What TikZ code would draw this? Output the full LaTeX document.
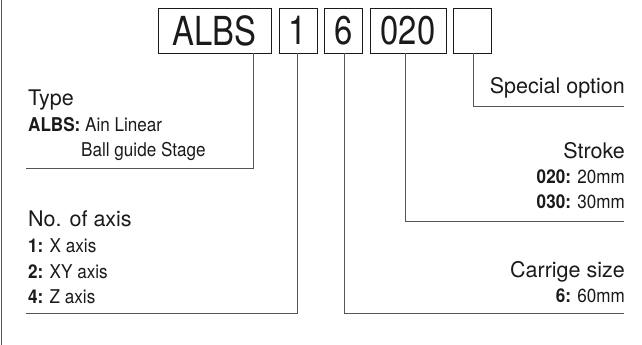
\documentclass[tikz,border=0pt]{standalone}
\usepackage{fontspec}
\setmainfont{TeX Gyre Heros}
\newfontfamily\cnd[FakeStretch=0.82]{TeX Gyre Heros}
\newfontfamily\dtl[FakeStretch=0.9]{TeX Gyre Heros}
\definecolor{ink}{HTML}{1A1A1A}
\definecolor{rule}{HTML}{555555}
\begin{document}
\begin{tikzpicture}[x=1pt,y=-1pt,
  codebox/.style={draw=ink,line width=0.9pt,inner sep=0pt,minimum height=45pt,
    text=ink,font=\cnd\fontsize{40}{40}\selectfont},
  leader/.style={draw=rule,line width=0.9pt},
  head/.style={inner sep=0pt,text=ink,font=\fontsize{21.5}{21.5}\selectfont},
  detail/.style={inner sep=0pt,text=ink,font=\dtl\fontsize{19}{19}\selectfont}]
\useasboundingbox (0,0) rectangle (642,345);
% left border
\coordinate (lt) at (1,0);
\coordinate (lb) at (1,345);
\draw[leader] (lt) -- (lb);
% code boxes
\node[codebox,minimum width=113pt] (albs) at (214.5,30.5) {ALBS};
\node[codebox,minimum width=38pt] (axis) at (298,30.5) {1};
\node[codebox,minimum width=38pt] (size) at (343.5,30.5) {6};
\node[codebox,minimum width=76pt] (stroke) at (408,30.5) {020};
\node[codebox,minimum width=38pt] (opt) at (472.5,30.5) {};
% leaders
\coordinate (tA) at (253,168); \coordinate (tE) at (26,168);
\draw[leader] (albs.south -| tA) -- (tA) -- (tE);
\coordinate (aA) at (297,313); \coordinate (aE) at (26,313);
\draw[leader] (axis.south -| aA) -- (aA) -- (aE);
\coordinate (cA) at (344,313); \coordinate (cE) at (624,313);
\draw[leader] (size.south -| cA) -- (cA) -- (cE);
\coordinate (sA) at (405,221); \coordinate (sE) at (624,221);
\draw[leader] (stroke.south -| sA) -- (sA) -- (sE);
\coordinate (oA) at (473,106); \coordinate (oE) at (624,106);
\draw[leader] (opt.south -| oA) -- (oA) -- (oE);
% texts left
\node[head,anchor=base west] (typeH) at (28,105) {Type};
\node[detail,anchor=base west] (typeL1) at (28,131) {\textbf{ALBS:} Ain Linear};
\node[detail,anchor=base west] (typeL2) at (81,156) {Ball guide Stage};
\node[head,anchor=base west] (axisH) at (28,226) {No. of axis};
\node[detail,anchor=base west] (axisL1) at (28,252) {\textbf{1:} X axis};
\node[detail,anchor=base west] (axisL2) at (28,278) {\textbf{2:} XY axis};
\node[detail,anchor=base west] (axisL3) at (28,303) {\textbf{4:} Z axis};
% texts right
\node[head,anchor=base east] (optH) at (625,93) {Special option};
\node[head,anchor=base east] (strokeH) at (625,158) {Stroke};
\node[detail,anchor=base east] (strokeL1) at (625,183) {\textbf{020:} 20mm};
\node[detail,anchor=base east] (strokeL2) at (625,208) {\textbf{030:} 30mm};
\node[head,anchor=base east] (sizeH) at (625,277) {Carrige size};
\node[detail,anchor=base east] (sizeL1) at (625,302) {\textbf{6:} 60mm};
\end{tikzpicture}
\end{document}
